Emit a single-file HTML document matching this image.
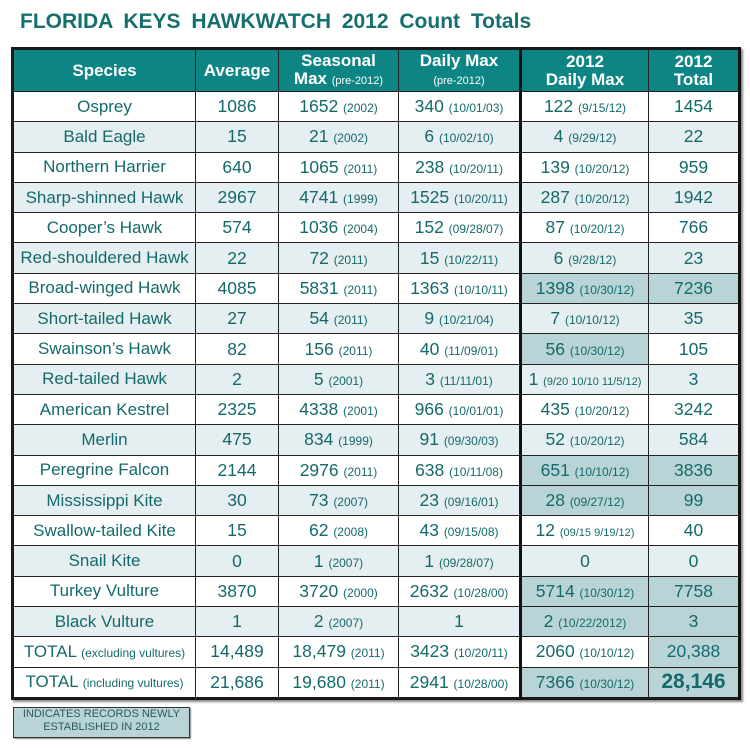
<!DOCTYPE html>
<html><head><meta charset="utf-8"><style>
body{margin:0;width:750px;height:750px;background:#fff;font-family:"Liberation Sans",Arial,sans-serif;position:relative;overflow:hidden}
h1{position:absolute;left:20px;top:10px;margin:0;font-size:21px;font-weight:bold;color:#156f6f;word-spacing:5px}
table{position:absolute;left:11px;top:47px;border-collapse:collapse;table-layout:fixed;border:3px solid #1a1a1a;box-shadow:2px 2px 2px #888}
td,th{border:1.5px solid #222;padding:0;text-align:center;white-space:nowrap;overflow:hidden}
th{background:#0d8585;color:#fff;font-weight:bold;font-size:17px;height:41px;line-height:18px}
th small{font-weight:normal;font-size:11px}
td{height:29.3px;font-size:17.5px;color:#146a6a}
td:first-child{font-size:17px}
td small{font-size:12px}
td small.s{font-size:11px}
tr.l td{background:#e5eef0}
td.h,tr.l td.h{background:#b9d4d7}
.tk{border-left:3px solid #111}
tr td:last-child,tr th:last-child{border-right:3px solid #111}
.big{font-weight:bold;font-size:21px}
.leg{position:absolute;left:13px;top:707px;width:175px;height:29px;background:#b9d4d7;border:1.5px solid #333;color:#2a5a5a;font-size:11px;text-align:center;line-height:13px;box-shadow:1px 1px 1px #888}
</style></head><body>
<h1>FLORIDA KEYS HAWKWATCH 2012 Count Totals</h1>
<table>
<colgroup><col style="width:183px"><col style="width:83px"><col style="width:120px"><col style="width:122px"><col style="width:128px"><col style="width:91px"></colgroup>
<tr><th>Species</th><th>Average</th><th>Seasonal<br>Max <small>(pre-2012)</small></th><th>Daily Max<br><small>(pre-2012)</small></th><th class="tk">2012<br>Daily Max</th><th>2012<br>Total</th></tr>
<tr><td>Osprey</td><td>1086</td><td>1652 <small>(2002)</small></td><td>340 <small>(10/01/03)</small></td><td class="tk">122 <small>(9/15/12)</small></td><td>1454</td></tr>
<tr class="l"><td>Bald Eagle</td><td>15</td><td>21 <small>(2002)</small></td><td>6 <small>(10/02/10)</small></td><td class="tk">4 <small>(9/29/12)</small></td><td>22</td></tr>
<tr><td>Northern Harrier</td><td>640</td><td>1065 <small>(2011)</small></td><td>238 <small>(10/20/11)</small></td><td class="tk">139 <small>(10/20/12)</small></td><td>959</td></tr>
<tr class="l"><td>Sharp-shinned Hawk</td><td>2967</td><td>4741 <small>(1999)</small></td><td>1525 <small>(10/20/11)</small></td><td class="tk">287 <small>(10/20/12)</small></td><td>1942</td></tr>
<tr><td>Cooper’s Hawk</td><td>574</td><td>1036 <small>(2004)</small></td><td>152 <small>(09/28/07)</small></td><td class="tk">87 <small>(10/20/12)</small></td><td>766</td></tr>
<tr class="l"><td>Red-shouldered Hawk</td><td>22</td><td>72 <small>(2011)</small></td><td>15 <small>(10/22/11)</small></td><td class="tk">6 <small>(9/28/12)</small></td><td>23</td></tr>
<tr><td>Broad-winged Hawk</td><td>4085</td><td>5831 <small>(2011)</small></td><td>1363 <small>(10/10/11)</small></td><td class="tk h">1398 <small>(10/30/12)</small></td><td class="h">7236</td></tr>
<tr class="l"><td>Short-tailed Hawk</td><td>27</td><td>54 <small>(2011)</small></td><td>9 <small>(10/21/04)</small></td><td class="tk">7 <small>(10/10/12)</small></td><td>35</td></tr>
<tr><td>Swainson’s Hawk</td><td>82</td><td>156 <small>(2011)</small></td><td>40 <small>(11/09/01)</small></td><td class="tk h">56 <small>(10/30/12)</small></td><td>105</td></tr>
<tr class="l"><td>Red-tailed Hawk</td><td>2</td><td>5 <small>(2001)</small></td><td>3 <small>(11/11/01)</small></td><td class="tk">1 <small class="s">(9/20 10/10 11/5/12)</small></td><td>3</td></tr>
<tr><td>American Kestrel</td><td>2325</td><td>4338 <small>(2001)</small></td><td>966 <small>(10/01/01)</small></td><td class="tk">435 <small>(10/20/12)</small></td><td>3242</td></tr>
<tr class="l"><td>Merlin</td><td>475</td><td>834 <small>(1999)</small></td><td>91 <small>(09/30/03)</small></td><td class="tk">52 <small>(10/20/12)</small></td><td>584</td></tr>
<tr><td>Peregrine Falcon</td><td>2144</td><td>2976 <small>(2011)</small></td><td>638 <small>(10/11/08)</small></td><td class="tk h">651 <small>(10/10/12)</small></td><td class="h">3836</td></tr>
<tr class="l"><td>Mississippi Kite</td><td>30</td><td>73 <small>(2007)</small></td><td>23 <small>(09/16/01)</small></td><td class="tk h">28 <small>(09/27/12)</small></td><td class="h">99</td></tr>
<tr><td>Swallow-tailed Kite</td><td>15</td><td>62 <small>(2008)</small></td><td>43 <small>(09/15/08)</small></td><td class="tk">12 <small class="s">(09/15 9/19/12)</small></td><td>40</td></tr>
<tr class="l"><td>Snail Kite</td><td>0</td><td>1 <small>(2007)</small></td><td>1 <small>(09/28/07)</small></td><td class="tk">0</td><td>0</td></tr>
<tr><td>Turkey Vulture</td><td>3870</td><td>3720 <small>(2000)</small></td><td>2632 <small>(10/28/00)</small></td><td class="tk h">5714 <small>(10/30/12)</small></td><td class="h">7758</td></tr>
<tr class="l"><td>Black Vulture</td><td>1</td><td>2 <small>(2007)</small></td><td>1</td><td class="tk h">2 <small>(10/22/2012)</small></td><td class="h">3</td></tr>
<tr><td>TOTAL <small>(excluding vultures)</small></td><td>14,489</td><td>18,479 <small>(2011)</small></td><td>3423 <small>(10/20/11)</small></td><td class="tk">2060 <small>(10/10/12)</small></td><td class="h">20,388</td></tr>
<tr><td>TOTAL <small>(including vultures)</small></td><td>21,686</td><td>19,680 <small>(2011)</small></td><td>2941 <small>(10/28/00)</small></td><td class="tk h">7366 <small>(10/30/12)</small></td><td class="h big">28,146</td></tr>
</table>
<div class="leg">INDICATES RECORDS NEWLY<br>ESTABLISHED IN 2012</div>
</body></html>
